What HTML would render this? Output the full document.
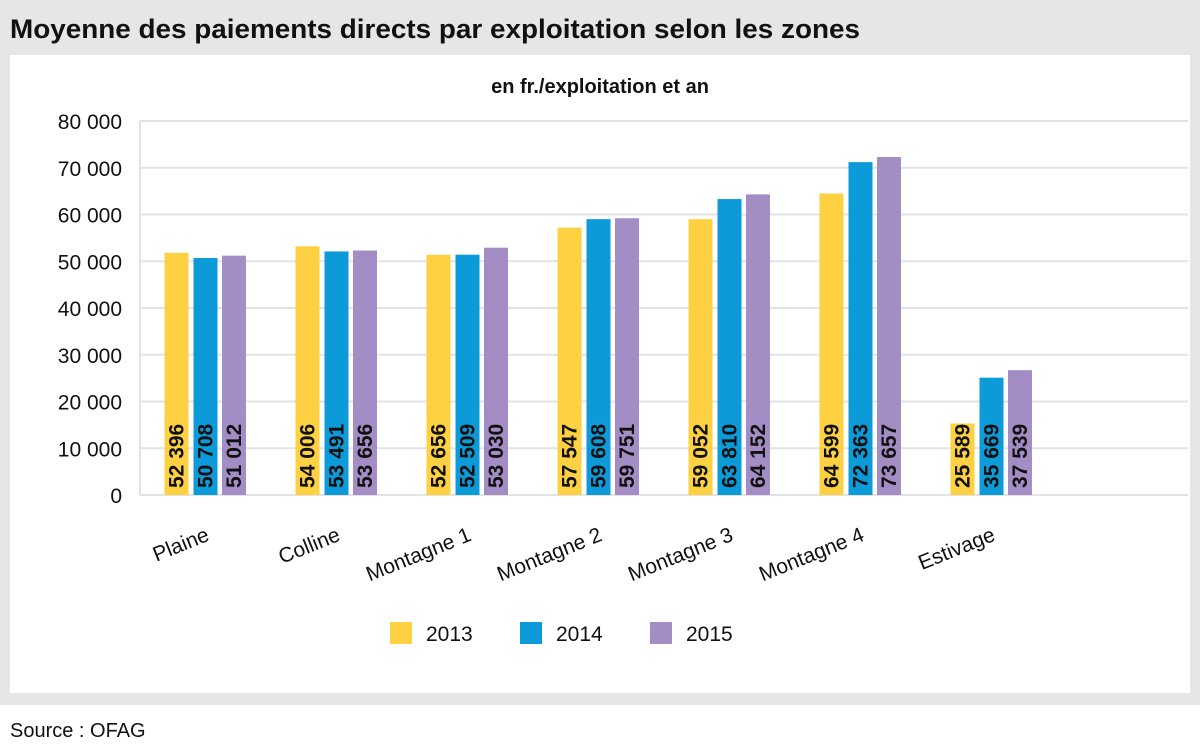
<!DOCTYPE html>
<html><head><meta charset="utf-8"><style>
body{margin:0;background:#fff;font-family:"Liberation Sans",sans-serif;}
#wrap{position:relative;width:1200px;height:753px;overflow:hidden;background:#fff}
</style></head><body>
<div id="wrap">
<svg id="svg" width="1200" height="753" xmlns="http://www.w3.org/2000/svg">
<rect x="0" y="0" width="1200" height="705" fill="#e6e6e6"/>
<rect x="10" y="55" width="1180" height="638" fill="#fff"/>
<text x="10" y="38" font-size="27" font-weight="bold" fill="#111" textLength="850" lengthAdjust="spacingAndGlyphs">Moyenne des paiements directs par exploitation selon les zones</text>
<text x="600" y="93" font-size="20" font-weight="bold" text-anchor="middle" fill="#111">en fr./exploitation et an</text>
<text x="10" y="737" font-size="20" fill="#111">Source : OFAG</text>
<g id="grid"></g><g id="bars"></g><g id="xl"></g><g id="legend"></g>
</svg>
</div>
<script>
const categories=["Plaine","Colline","Montagne 1","Montagne 2","Montagne 3","Montagne 4","Estivage"];
const series=["2013","2014","2015"];
const values2013=[51800,53200,51400,57200,59000,64500,15300];
const values2014=[50700,52100,51400,59000,63300,71200,25100];
const values2015=[51200,52300,52900,59200,64300,72300,26700];
const labels2013=["52 396","54 006","52 656","57 547","59 052","64 599","25 589"];
const labels2014=["50 708","53 491","52 509","59 608","63 810","72 363","35 669"];
const labels2015=["51 012","53 656","53 030","59 751","64 152","73 657","37 539"];
const yTicks=[0,10000,20000,30000,40000,50000,60000,70000,80000];
const yTickLabels=["0","10 000","20 000","30 000","40 000","50 000","60 000","70 000","80 000"];
const colors=["#fdd142","#0d9ad8","#a48cc4"];
const NS="http://www.w3.org/2000/svg";
const x0=140,x1=1188,y0=495,y1=121,slots=8;
const slotW=(x1-x0)/slots;
const y=v=>y0-(v/80000)*(y0-y1);
const cx=i=>x0+slotW*(i+0.5);
function mk(tag,attrs,parent){const e=document.createElementNS(NS,tag);for(const k in attrs)e.setAttribute(k,attrs[k]);parent.appendChild(e);return e;}
const grid=document.getElementById('grid');
yTicks.forEach((t,i)=>{
 const l=mk('line',{x1:x0,x2:x1,y1:y(t),y2:y(t),stroke:'#e3e3e3','stroke-width':2},grid);
 
 
 const tx=mk('text',{x:122,y:y(t)+8,'font-size':21,'text-anchor':'end',fill:'#111'},grid);
 tx.textContent=yTickLabels[i];
 
 
});
const vl=mk('line',{x1:x0,x2:x0,y1:y1,y2:y0,stroke:'#e3e3e3','stroke-width':2},grid);


const bars=document.getElementById('bars');
const vals=[values2013,values2014,values2015],labs=[labels2013,labels2014,labels2015];
const offs=[-29,0,28.5],bw=24;
categories.forEach((c,i)=>{
 for(let s=0;s<3;s++){
  const bx=cx(i)+offs[s]-bw/2;
  const r=mk('rect',{x:bx,y:y(vals[s][i]),width:bw,height:y0-y(vals[s][i]),fill:colors[s]},bars);
  
  
  const lx=bx+bw/2+7, ly=488;
  const t=mk('text',{x:lx,y:ly,'font-size':21,'font-weight':'bold',fill:'#111',transform:`rotate(-90 ${lx} ${ly})`},bars);
  t.textContent=labs[s][i];
  
  
 }
 const ax=cx(i)+5, ay=540;
 const t=mk('text',{x:ax,y:ay,'font-size':21,'text-anchor':'end',fill:'#111',transform:`rotate(-22 ${ax} ${ay})`},document.getElementById('xl'));
 t.textContent=c;
 
 
});
const lg=document.getElementById('legend');
series.forEach((s,i)=>{
 const lx=390+i*130;
 const r=mk('rect',{x:lx,y:622,width:22,height:22,fill:colors[i]},lg);
 
 
 const t=mk('text',{x:lx+36,y:641,'font-size':21,fill:'#111'},lg);
 t.textContent=s;
 
 
});
</script>
</body></html>
